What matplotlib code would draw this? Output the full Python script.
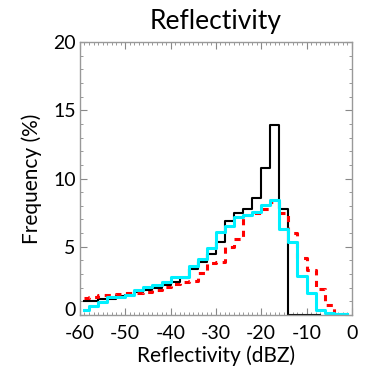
import matplotlib
matplotlib.use("Agg")
import matplotlib.pyplot as plt
import matplotlib.transforms as mtransforms
import numpy as np

plt.rcParams['font.family'] = ['Lato', 'DejaVu Sans']
plt.rcParams['axes.unicode_minus'] = False

# bin centres (dBZ), 2 dBZ bins
centers = np.arange(-59, 0, 2)

# frequency (%) per bin
black_freq = [1.0, 1.05, 1.15, 1.2, 1.4, 1.5, 1.65, 1.8, 2.0, 2.2,
              2.45, 2.7, 3.35, 3.85, 4.45, 5.35, 6.9, 7.45, 7.75, 8.6,
              10.75, 13.9, 7.8, 0.0, 0.0, 0.0, 0.0]
red_freq = [1.25, 1.35, 1.45, 1.5, 1.55, 1.6, 1.6, 1.7, 1.85, 2.05,
            2.25, 2.45, 2.5, 3.05, 3.8, 3.9, 5.0, 5.6, 7.3, 7.5,
            7.8, 8.3, 7.45, 6.0, 4.15, 3.3, 1.9, 0.7, 0.1, 0.05]
cyan_freq = [0.35, 0.68, 0.97, 1.3, 1.35, 1.45, 1.83, 2.07, 2.2, 2.4,
             2.8, 2.8, 3.6, 4.1, 4.9, 6.1, 6.5, 7.2, 7.3, 7.55,
             8.05, 8.4, 6.3, 5.35, 2.85, 1.6, 0.4, 0.15, 0.05, 0.05]

fig = plt.figure(figsize=(3.65, 3.75), dpi=100)
ax = fig.add_axes([0.219, 0.16, 0.745, 0.728])

ax.step(centers[:len(black_freq)], black_freq, where='mid', color='black', lw=1.5)
ax.step(centers, red_freq, where='mid', color='red', lw=2.2, linestyle=(0, (2, 1.8)))
ax.step(centers, cyan_freq, where='mid', color='#00f0ff', lw=2.2)

ax.set_xlim(-60, 0)
ax.set_ylim(0, 20)
ax.set_xticks(np.arange(-60, 1, 10))
ax.set_yticks(np.arange(0, 21, 5))
ax.set_xticks(np.arange(-60, 1, 1), minor=True)
ax.set_yticks(np.arange(0, 21, 1), minor=True)
ax.tick_params(which='both', direction='in', top=True, right=True, color='#888888', labelsize=14)
ax.tick_params(which='major', length=5, width=0.8)
ax.tick_params(which='minor', length=2.5, width=0.6)
ax.tick_params(axis='x', pad=7)
ax.tick_params(axis='y', pad=3)
for sp in ax.spines.values():
    sp.set_color('#999999')
    sp.set_linewidth(1.0)

ax.set_title("Reflectivity", fontsize=19, pad=9)
ax.set_xlabel("Reflectivity (dBZ)", fontsize=15, labelpad=3)
ax.set_ylabel("Frequency (%)", fontsize=15, labelpad=8)

# IDL style: bottom "0" label sits a little above the axis
fig.canvas.draw()
lab0 = ax.get_yticklabels()[0]
lab0.set_transform(lab0.get_transform() + mtransforms.ScaledTranslation(0, 6 / 100, fig.dpi_scale_trans))

fig.savefig("out.png", dpi=100)
